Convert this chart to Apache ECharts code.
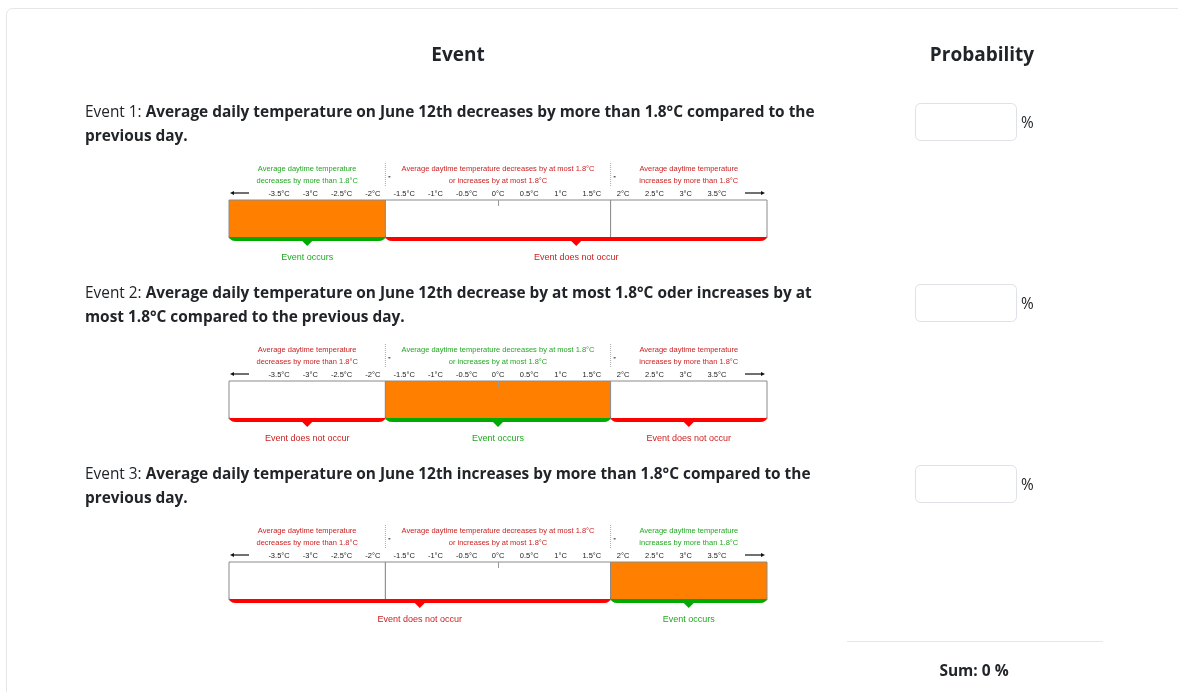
<!DOCTYPE html>
<html>
<head>
<meta charset="utf-8">
<script src="https://cdn.jsdelivr.net/npm/echarts@6/dist/echarts.min.js"></script>
<style>
  html, body { margin: 0; padding: 0; background: #fff; }
  #chart { width: 1178px; height: 692px; }
</style>
</head>
<body>
<div id="chart"></div>
<script>
// temperature scale segments (°C)
const segStart = [-4.3, -1.8, 1.8]
const segEnd = [-1.8, 1.8, 4.3]
const tickValues = [-3.5, -3, -2.5, -2, -1.5, -1, -0.5, 0, 0.5, 1, 1.5, 2, 2.5, 3, 3.5]
const segLabels = [
  ['Average daytime temperature', 'decreases by more than 1.8°C'],
  ['Average daytime temperature decreases by at most 1.8°C', 'or increases by at most 1.8°C'],
  ['Average daytime temperature', 'increases by more than 1.8°C']
]
// which segment is the event, per event
const eventSegment = [0, 1, 2]
const eventTitles = [
  ['Average daily temperature on June 12th decreases by more than 1.8°C compared to the', 'previous day.'],
  ['Average daily temperature on June 12th decrease by at most 1.8°C oder increases by at', 'most 1.8°C compared to the previous day.'],
  ['Average daily temperature on June 12th increases by more than 1.8°C compared to the', 'previous day.']
]
const probabilities = ['', '', '']
const sumValue = 0

const pageFont = 'Open Sans'
const diagFont = 'Liberation Sans'
const textColor = '#212529'
const orange = '#ff8000'
const green = '#00aa00'
const red = '#ff0000'

const rowTop = [0, 181, 362] // vertical offset of each event row
const chart = echarts.init(document.getElementById('chart'))

function renderSegment(params, api) {
  const x0 = api.coord([api.value(0), 1])[0]
  const x1 = api.coord([api.value(1), 1])[0]
  const yTop = api.coord([0, 1])[1]
  const yBot = api.coord([0, 0])[1]
  const isEvent = api.value(2) === 1
  const idx = api.value(3)
  const xm = (x0 + x1) / 2
  const txt = isEvent ? '#22a822' : '#cc2222'
  const children = [
    {
      type: 'rect',
      shape: { x: x0, y: yTop, width: x1 - x0, height: yBot - yTop },
      style: { fill: isEvent ? orange : '#fff', stroke: '#8a8a8a', lineWidth: 1 }
    },
    {
      type: 'text',
      style: {
        text: segLabels[idx][0], x: xm, y: yTop - 31, align: 'center', verticalAlign: 'middle',
        fill: txt, font: '7.5px "' + diagFont + '"'
      }
    },
    {
      type: 'text',
      style: {
        text: segLabels[idx][1], x: xm, y: yTop - 19, align: 'center', verticalAlign: 'middle',
        fill: txt, font: '7.5px "' + diagFont + '"'
      }
    }
  ]
  // small mark at 0°C under the top edge
  if (api.value(0) < 0 && api.value(1) > 0) {
    const xz = Math.round(api.coord([0, 1])[0]) + 0.5
    children.push({
      type: 'line', shape: { x1: xz, y1: yTop, x2: xz, y2: yTop + 6 },
      style: { stroke: '#999', lineWidth: 1 }
    })
  }
  if (idx > 0) {
    children.push({
      type: 'line',
      shape: { x1: x0, y1: yTop - 37, x2: x0, y2: yTop - 13 },
      style: { stroke: '#aaa', lineWidth: 1, lineDash: [1, 1] }
    })
    children.push({
      type: 'rect',
      shape: { x: x0 + 3, y: yTop - 24, width: 2, height: 1.5 },
      style: { fill: '#666' }
    })
  }
  const ya = yTop - 7
  if (idx === 0) {
    children.push({ type: 'line', shape: { x1: x0 + 3, y1: ya, x2: x0 + 20, y2: ya }, style: { stroke: '#111', lineWidth: 1.2 } })
    children.push({ type: 'polygon', shape: { points: [[x0 + 1, ya], [x0 + 5, ya - 2], [x0 + 5, ya + 2]] }, style: { fill: '#111' } })
  }
  if (idx === segStart.length - 1) {
    children.push({ type: 'line', shape: { x1: x1 - 22, y1: ya, x2: x1 - 4, y2: ya }, style: { stroke: '#111', lineWidth: 1.2 } })
    children.push({ type: 'polygon', shape: { points: [[x1 - 2, ya], [x1 - 6, ya - 2], [x1 - 6, ya + 2]] }, style: { fill: '#111' } })
  }
  return { type: 'group', children: children }
}

function renderBrace(params, api) {
  const x0 = api.coord([api.value(0), 1])[0]
  const x1 = api.coord([api.value(1), 1])[0]
  const yBot = api.coord([0, 0])[1]
  const isEvent = api.value(2) === 1
  const xm = (x0 + x1) / 2
  const b = yBot + 3
  return {
    type: 'group',
    children: [
      {
        type: 'path',
        shape: {
          pathData: 'M' + x0 + ' ' + (yBot - 3) +
            ' Q' + x0 + ' ' + b + ' ' + (x0 + 7) + ' ' + b +
            ' L' + (xm - 5) + ' ' + b +
            ' L' + xm + ' ' + (b + 5) +
            ' L' + (xm + 5) + ' ' + b +
            ' L' + (x1 - 7) + ' ' + b +
            ' Q' + x1 + ' ' + b + ' ' + x1 + ' ' + (yBot - 3) +
            ' L' + x1 + ' ' + (yBot - 1) + ' L' + x0 + ' ' + (yBot - 1) + ' Z'
        },
        style: { fill: isEvent ? green : red }
      },
      {
        type: 'text',
        style: {
          text: isEvent ? 'Event occurs' : 'Event does not occur',
          x: xm, y: yBot + 20, align: 'center', verticalAlign: 'middle',
          fill: isEvent ? '#22a822' : '#cc2222', font: '9px "' + diagFont + '"'
        }
      }
    ]
  }
}

// merge neighbouring segments with the same outcome into one brace
function braceGroups(ev) {
  const out = []
  segStart.forEach(function (s, j) {
    const flag = j === ev ? 1 : 0
    const last = out[out.length - 1]
    if (last && last[2] === flag) last[1] = segEnd[j]
    else out.push([s, segEnd[j], flag])
  })
  return out
}

const grids = []
const xAxes = []
const yAxes = []
const series = []
const graphics = [
  { type: 'rect', shape: { x: 6.5, y: 8.5, width: 1220, height: 800, r: 6 }, style: { fill: '#fff', stroke: '#e6e6e6', lineWidth: 1 }, z: -10 },
  { type: 'text', style: { text: 'Event', x: 458, y: 55.5, align: 'center', verticalAlign: 'middle', font: 'bold 19px "' + pageFont + '"', fill: textColor } },
  { type: 'text', style: { text: 'Probability', x: 982, y: 55.5, align: 'center', verticalAlign: 'middle', font: 'bold 19px "' + pageFont + '"', fill: textColor } },
  { type: 'line', shape: { x1: 847, y1: 641.5, x2: 1103, y2: 641.5 }, style: { stroke: '#e6e6e6', lineWidth: 1 } },
  { type: 'text', style: { text: 'Sum: ' + sumValue + ' %', x: 974, y: 671.5, align: 'center', verticalAlign: 'middle', font: 'bold 15.5px "' + pageFont + '"', fill: textColor } }
]

eventSegment.forEach(function (ev, i) {
  const off = rowTop[i]
  grids.push({ left: 229, width: 538, top: 200 + off, height: 38 })
  xAxes.push({
    type: 'value', gridIndex: i, min: segStart[0], max: segEnd[segEnd.length - 1],
    position: 'top',
    axisLine: { show: false },
    splitLine: { show: false },
    axisTick: { show: false },
    axisLabel: {
      customValues: tickValues, margin: 2, fontSize: 7.5, fontFamily: diagFont, color: '#222',
      formatter: function (v) { return v + '°C' }
    }
  })
  yAxes.push({ type: 'value', gridIndex: i, min: 0, max: 1, show: false })
  series.push({
    type: 'custom', xAxisIndex: i, yAxisIndex: i, clip: false,
    renderItem: renderSegment,
    data: segStart.map(function (s, j) { return [s, segEnd[j], j === ev ? 1 : 0, j] }),
    silent: true
  })
  series.push({
    type: 'custom', xAxisIndex: i, yAxisIndex: i, clip: false,
    renderItem: renderBrace,
    data: braceGroups(ev),
    silent: true
  })
  graphics.push({
    type: 'text',
    style: {
      text: '{r|Event ' + (i + 1) + ': }{b|' + eventTitles[i][0] + '}',
      x: 85, y: 112.5 + off, verticalAlign: 'middle',
      rich: {
        r: { font: '15.4px "' + pageFont + '"', fill: textColor },
        b: { font: 'bold 15.4px "' + pageFont + '"', fill: textColor }
      }
    }
  })
  graphics.push({
    type: 'text',
    style: { text: eventTitles[i][1], x: 85, y: 136.5 + off, verticalAlign: 'middle', font: 'bold 15.4px "' + pageFont + '"', fill: textColor }
  })
  graphics.push({
    type: 'rect', shape: { x: 915.5, y: 103.5 + off, width: 101, height: 37, r: 5 },
    style: { fill: '#fff', stroke: '#dee2e6', lineWidth: 1 }
  })
  graphics.push({
    type: 'text', style: { text: probabilities[i], x: 925, y: 122 + off, verticalAlign: 'middle', font: '15.4px "' + pageFont + '"', fill: textColor }
  })
  graphics.push({
    type: 'text', style: { text: '%', x: 1021, y: 124 + off, verticalAlign: 'middle', font: '15.4px "' + pageFont + '"', fill: textColor }
  })
})

chart.setOption({
  backgroundColor: '#fff',
  animation: false,
  grid: grids,
  xAxis: xAxes,
  yAxis: yAxes,
  series: series,
  graphic: graphics
})
</script>
</body>
</html>
